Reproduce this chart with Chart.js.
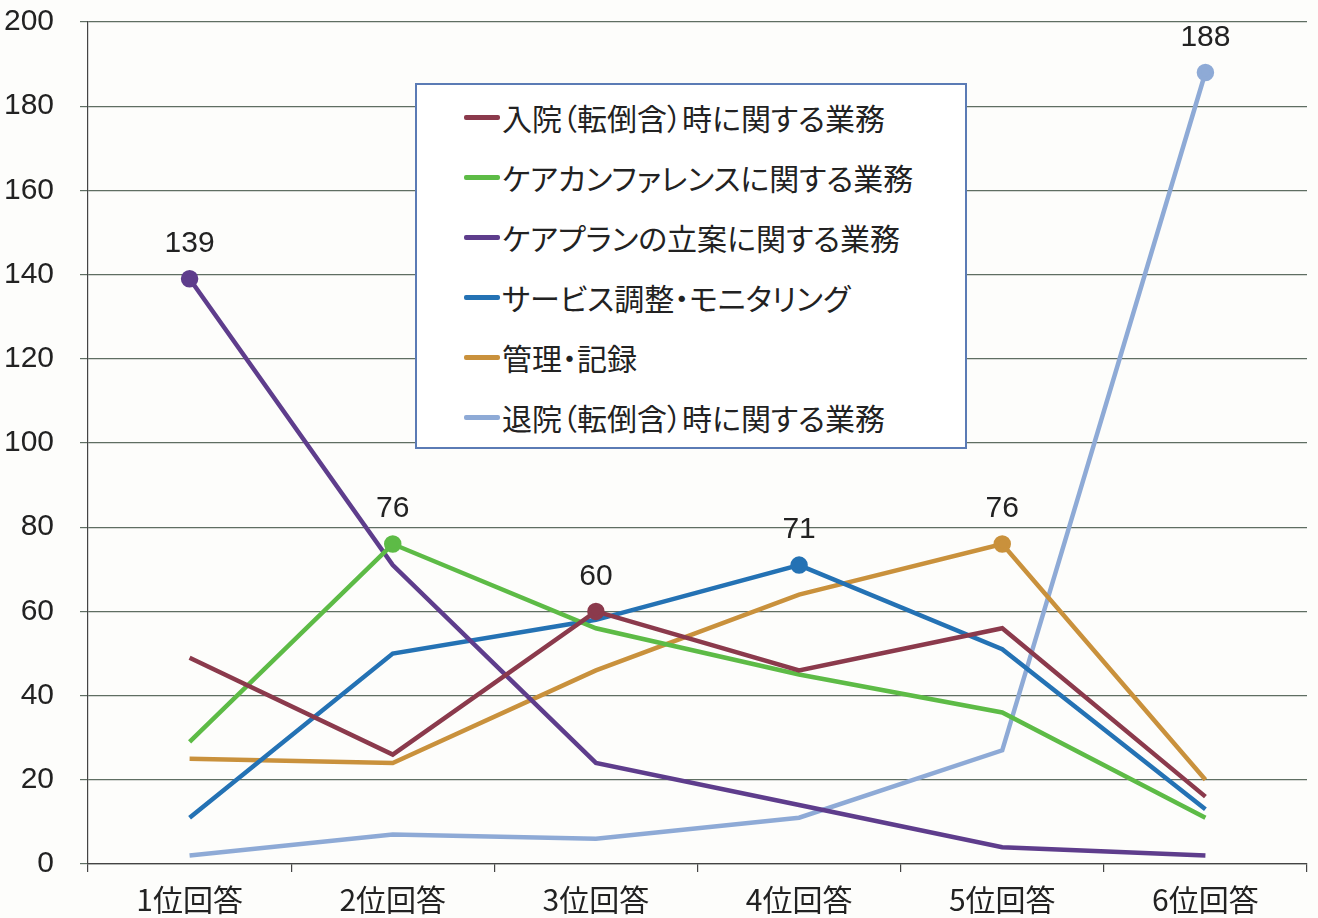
<!DOCTYPE html>
<html>
<head>
<meta charset="utf-8">
<script src="https://cdn.jsdelivr.net/npm/chart.js@4"></script>
<style>
  html, body { margin: 0; padding: 0; background: #fdfdfb; }
  #wrap { position: relative; width: 1318px; height: 918px; }
  #legend {
    position: absolute; left: 415px; top: 83px; width: 548px; height: 362px;
    border: 2px solid #5b7bb5; background: #ffffff; box-sizing: content-box;
  }
  .item { position: absolute; left: 47px; height: 40px; display: flex; align-items: center;
    font-family: "Noto Sans CJK JP", sans-serif; font-size: 30px; color: #222; white-space: nowrap;
    font-feature-settings: "palt" 1; }
  .swatch { width: 36px; height: 5px; border-radius: 2px; margin-right: 2px; }
</style>
</head>
<body>
<div id="wrap">
  <canvas id="c" width="1318" height="918"></canvas>
  <div id="legend"></div>
</div>
<script>
const categories = ["1位回答", "2位回答", "3位回答", "4位回答", "5位回答", "6位回答"];
const seriesNames = [
  "入院（転倒含）時に関する業務",
  "ケアカンファレンスに関する業務",
  "ケアプランの立案に関する業務",
  "サービス調整・モニタリング",
  "管理・記録",
  "退院（転倒含）時に関する業務"
];
const admission   = [49, 26, 60, 46, 56, 16];
const conference  = [29, 76, 56, 45, 36, 11];
const carePlan    = [139, 71, 24, 14, 4, 2];
const service     = [11, 50, 58, 71, 51, 13];
const management  = [25, 24, 46, 64, 76, 20];
const discharge   = [2, 7, 6, 11, 27, 188];
const yTicks = [0, 20, 40, 60, 80, 100, 120, 140, 160, 180, 200];

const seriesValues = [admission, conference, carePlan, service, management, discharge];
const colors = ["#8b3a4c", "#5dbb46", "#5e3d8c", "#2472b4", "#c9913c", "#8eaad6"];

const datasets = seriesValues.map((vals, i) => {
  const maxIdx = vals.indexOf(Math.max(...vals));
  return {
    label: seriesNames[i],
    data: vals,
    borderColor: colors[i],
    backgroundColor: colors[i],
    borderWidth: 4.5,
    tension: 0,
    pointRadius: ctx => ctx.dataIndex === maxIdx ? 6.5 : 0,
    pointHoverRadius: 0,
    labelIndex: maxIdx
  };
});

const bgPlugin = {
  id: 'bg',
  beforeDraw(chart) {
    const c = chart.ctx;
    c.save(); c.fillStyle = '#fdfdfb'; c.fillRect(0, 0, chart.width, chart.height); c.restore();
  }
};

const labelPlugin = {
  id: 'maxLabels',
  afterDatasetsDraw(chart) {
    const c = chart.ctx;
    c.save();
    c.font = '30px "Liberation Sans", Arial, sans-serif';
    c.fillStyle = '#222';
    c.textAlign = 'center';
    c.textBaseline = 'middle';
    chart.data.datasets.forEach((ds, i) => {
      const meta = chart.getDatasetMeta(i);
      const pt = meta.data[ds.labelIndex];
      c.fillText(String(ds.data[ds.labelIndex]), pt.x, pt.y - 35);
    });
    c.restore();
  }
};

new Chart(document.getElementById('c'), {
  type: 'line',
  data: { labels: categories, datasets },
  plugins: [bgPlugin, labelPlugin],
  options: {
    responsive: false,
    animation: false,
    events: [],
    layout: { padding: { left: 0, right: 5, top: 22, bottom: 0 } },
    plugins: { legend: { display: false }, tooltip: { enabled: false } },
    scales: {
      x: {
        offset: true,
        grid: { offset: true, drawOnChartArea: false, drawTicks: true, tickLength: 8, color: '#444', lineWidth: 1.2 },
        border: { display: true, color: '#444', width: 1.2 },
        ticks: { color: '#222', padding: 10, maxRotation: 0, font: { family: '"Noto Sans CJK JP", sans-serif', size: 30 } },
        afterFit(scale) { scale.height = 54; scale.paddingLeft = 0; scale.paddingRight = 0; }
      },
      y: {
        min: 0, max: 200,
        afterBuildTicks(scale) { scale.ticks = yTicks.map(v => ({ value: v })); },
        grid: { color: '#5f6e62', lineWidth: 1.2, tickLength: 8 },
        border: { display: true, color: '#444', width: 1.2 },
        ticks: { color: '#222', padding: 26, font: { family: '"Liberation Sans", Arial, sans-serif', size: 30 } },
        afterFit(scale) { scale.width = 88; scale.paddingTop = 0; scale.paddingBottom = 0; }
      }
    }
  }
});

const legend = document.getElementById('legend');
seriesNames.forEach((name, i) => {
  const row = document.createElement('div');
  row.className = 'item';
  row.style.top = (12 + i * 60) + 'px';
  const sw = document.createElement('span');
  sw.className = 'swatch';
  sw.style.background = colors[i];
  const tx = document.createElement('span');
  tx.textContent = name;
  row.appendChild(sw); row.appendChild(tx);
  legend.appendChild(row);
});
</script>
</body>
</html>
